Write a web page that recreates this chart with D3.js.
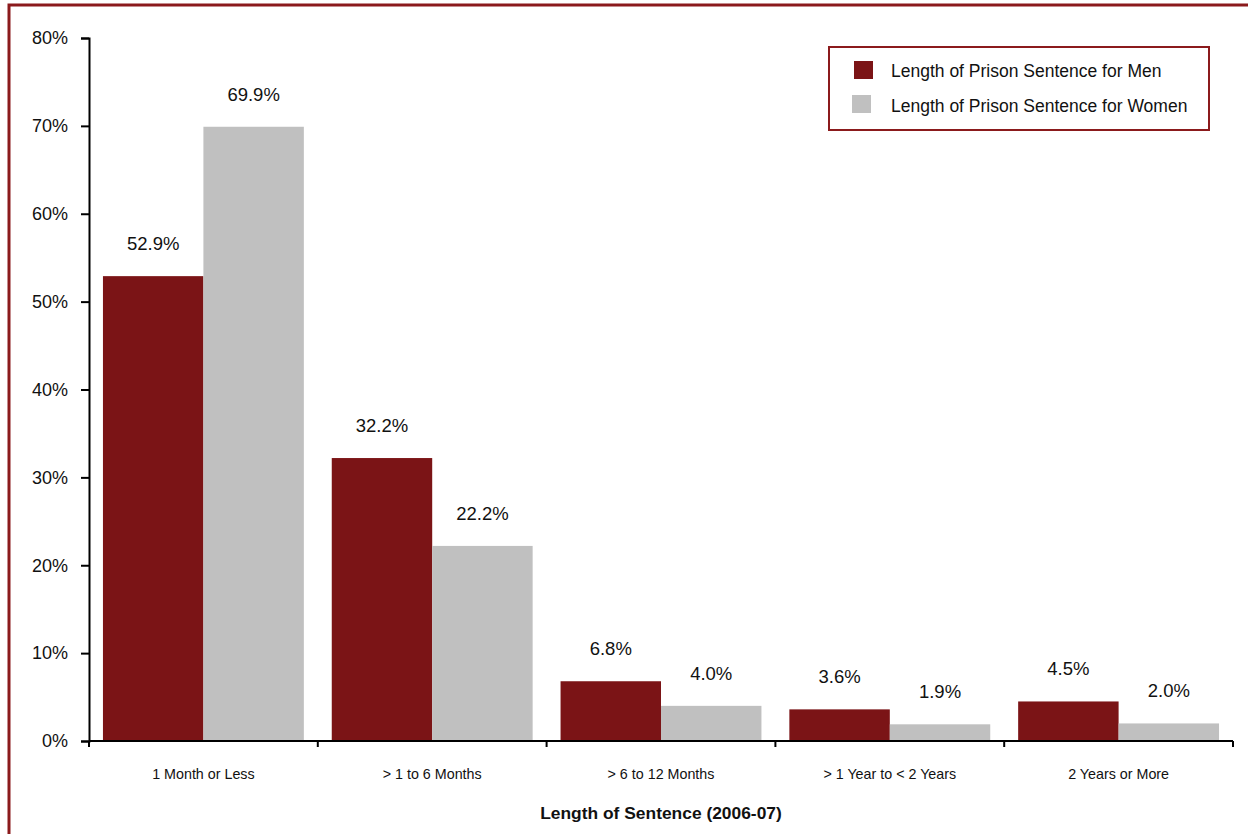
<!DOCTYPE html>
<html><head><meta charset="utf-8">
<script src="https://cdn.jsdelivr.net/npm/d3@7"></script>
<style>body{margin:0;background:#fff;} svg{display:block;} text{font-family:"Liberation Sans","Arial",sans-serif;fill:#111;}</style>
</head><body>
<svg id="c" width="1248" height="834"></svg>
<script>
const categories = ["1 Month or Less", "> 1 to 6 Months", "> 6 to 12 Months", "> 1 Year to < 2 Years", "2 Years or More"];
const menValues = [52.9, 32.2, 6.8, 3.6, 4.5];
const womenValues = [69.9, 22.2, 4.0, 1.9, 2.0];
const seriesNames = ["Length of Prison Sentence for Men", "Length of Prison Sentence for Women"];
const yTicks = [0, 10, 20, 30, 40, 50, 60, 70, 80];
const colors = ["#7B1416", "#C0C0C0"];

const svg = d3.select("#c");
// outer frame
svg.append("rect").attr("x", 9).attr("y", 5).attr("width", 1260).attr("height", 860)
  .attr("fill", "none").attr("stroke", "#8B1A1C").attr("stroke-width", 3);

const mLeft = 89, mRight = 1233, mTop = 38, mBottom = 741;
const x = d3.scaleBand().domain(categories).range([mLeft, mRight]).paddingInner(0.122).paddingOuter(0.061);
const y = d3.scaleLinear().domain([0, 80]).range([mBottom, mTop]);
const xs = d3.scaleBand().domain([0, 1]).range([0, x.bandwidth()]);

// bars
const series = [menValues, womenValues];
series.forEach((vals, si) => {
  const g = svg.append("g");
  g.selectAll("rect").data(vals).join("rect")
    .attr("x", (d, i) => x(categories[i]) + xs(si))
    .attr("y", d => y(d))
    .attr("width", xs.bandwidth())
    .attr("height", d => y(0) - y(d))
    .attr("fill", colors[si]);
  g.selectAll("text").data(vals).join("text")
    .attr("x", (d, i) => x(categories[i]) + xs(si) + xs.bandwidth() / 2)
    .attr("y", d => y(d) - 26)
    .attr("text-anchor", "middle")
    .attr("font-size", 18.5)
    .text(d => d.toFixed(1) + "%");
});

// y axis
const yAxis = svg.append("g").attr("transform", `translate(${mLeft},0)`)
  .call(d3.axisLeft(y).tickValues(yTicks).tickSize(8).tickPadding(13).tickFormat(d => d + "%"));
yAxis.select(".domain").attr("stroke", "#000").attr("stroke-width", 2);
yAxis.selectAll(".tick line").attr("stroke", "#000").attr("stroke-width", 2);
yAxis.selectAll(".tick text").attr("font-size", 18).attr("fill", "#111")
  .attr("font-family", '"Liberation Sans",Arial,sans-serif');

// x axis
const xb = d3.scaleLinear().domain([0, categories.length]).range([mLeft, mRight]);
const xAxisG = svg.append("g").attr("transform", `translate(0,${mBottom})`);
xAxisG.append("line").attr("x1", mLeft).attr("x2", mRight).attr("stroke", "#000").attr("stroke-width", 2);
xAxisG.selectAll("line.t").data(d3.range(categories.length + 1)).join("line").attr("class", "t")
  .attr("x1", d => xb(d)).attr("x2", d => xb(d)).attr("y1", 0).attr("y2", 6)
  .attr("stroke", "#000").attr("stroke-width", 2);
xAxisG.selectAll("text").data(categories).join("text")
  .attr("x", d => x(d) + x.bandwidth() / 2).attr("y", 38)
  .attr("text-anchor", "middle").attr("font-size", 14.3).text(d => d);

svg.append("text").attr("x", 661).attr("y", 819).attr("text-anchor", "middle")
  .attr("font-size", 17.4).attr("font-weight", "bold").text("Length of Sentence (2006-07)");

// legend
const lg = svg.append("g");
lg.append("rect").attr("x", 829).attr("y", 47).attr("width", 380).attr("height", 83)
  .attr("fill", "#fff").attr("stroke", "#8B1A1C").attr("stroke-width", 2);
seriesNames.forEach((n, i) => {
  lg.append("rect").attr("x", 854 - i * 2).attr("y", 61 + i * 34).attr("width", 19).attr("height", 18).attr("fill", colors[i]);
  lg.append("text").attr("x", 891).attr("y", 77 + i * 35).attr("font-size", 17.5).text(n);
});
</script>
</body></html>
